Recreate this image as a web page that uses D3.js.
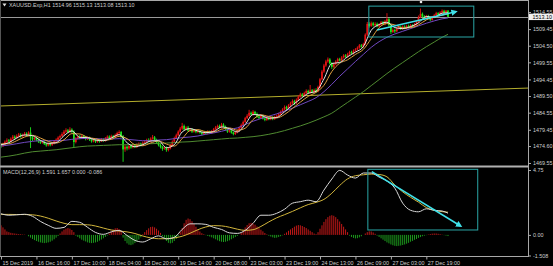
<!DOCTYPE html>
<html><head><meta charset="utf-8">
<script src="https://cdn.jsdelivr.net/npm/d3@7/dist/d3.min.js"></script>
<style>
html,body{margin:0;padding:0;background:#000;overflow:hidden}
svg{display:block}
text{font-family:"Liberation Sans",Arial,sans-serif;font-size:5.4px;fill:#cfcfcf}
</style></head><body>
<svg id="c" width="553" height="266"></svg>
<script>
// ---------- DATA ----------
const symbolTitle = "XAUUSD.Exp,H1  1514.96 1515.13 1513.08 1513.10";
const macdTitle = "MACD(12,26,9) 1.591 1.657 0.000 -0.086";
const opens=[1474.9,1474.6,1475.2,1475.9,1476.3,1476.0,1476.8,1477.4,1477.0,1477.6,
1478.0,1477.5,1477.9,1478.3,1477.8,1478.6,1477.2,1476.6,1477.0,1476.4,
1476.0,1475.6,1475.9,1475.2,1474.8,1475.3,1474.9,1475.4,1476.0,1476.5,
1477.1,1477.6,1478.2,1478.9,1479.3,1478.8,1479.5,1478.9,1475.8,1476.9,
1477.4,1477.0,1477.6,1477.2,1476.7,1477.1,1476.5,1476.0,1476.4,1475.9,
1476.3,1476.0,1476.6,1476.2,1476.9,1477.4,1477.0,1477.6,1477.2,1477.9,
1478.5,1478.8,1477.5,1473.6,1474.4,1473.9,1474.6,1474.2,1474.8,1474.4,
1475.0,1475.3,1474.9,1475.6,1475.9,1476.4,1476.0,1476.8,1477.2,1476.4,
1475.7,1474.9,1474.3,1473.8,1474.2,1473.4,1473.9,1474.8,1475.9,1477.0,
1477.8,1478.9,1479.8,1480.6,1479.6,1480.1,1479.2,1479.6,1478.9,1479.3,
1478.8,1479.1,1478.6,1478.2,1478.7,1478.4,1478.9,1478.5,1479.0,1479.6,
1480.2,1480.6,1480.1,1481.0,1480.4,1479.6,1478.9,1479.3,1478.6,1478.2,
1478.7,1479.2,1480.0,1480.9,1481.8,1482.9,1483.6,1484.5,1484.0,1484.8,
1484.2,1483.4,1483.0,1483.6,1482.8,1482.4,1483.0,1482.6,1483.1,1482.7,
1483.3,1483.6,1484.1,1484.8,1485.5,1486.2,1485.8,1486.7,1487.3,1488.0,
1487.4,1488.4,1489.3,1490.0,1489.6,1490.4,1491.0,1490.5,1491.2,1490.7,
1491.3,1490.9,1492.2,1494.5,1496.8,1498.6,1499.8,1500.4,1499.2,1498.2,
1499.0,1499.8,1500.5,1500.1,1501.0,1501.6,1501.2,1502.0,1502.6,1502.2,
1503.0,1503.4,1503.9,1504.6,1504.2,1505.0,1507.8,1511.0,1510.4,1511.2,
1510.6,1511.0,1510.3,1510.8,1511.5,1510.9,1511.8,1512.4,1510.6,1508.6,
1509.2,1508.8,1509.6,1510.1,1509.5,1510.2,1509.7,1510.4,1509.9,1510.6,
1510.2,1510.9,1511.6,1513.0,1514.0,1513.2,1512.6,1513.3,1512.8,1512.2,
1513.0,1513.6,1514.2,1513.7,1514.4,1514.9,1514.3,1514.96];
const highs=[1475.4,1475.6,1476.3,1476.9,1476.7,1477.2,1477.9,1477.8,1478.1,1478.5,
1478.4,1478.3,1478.8,1478.7,1479.0,1480.2,1477.6,1477.4,1477.3,1476.8,
1476.4,1476.3,1476.2,1475.6,1475.7,1475.6,1475.8,1476.4,1476.9,1477.5,
1478.0,1478.7,1479.4,1479.9,1479.7,1480.2,1479.9,1479.3,1477.3,1477.8,
1477.9,1478.0,1477.9,1477.5,1477.5,1477.4,1476.9,1476.8,1476.7,1476.7,
1476.7,1477.0,1476.9,1477.3,1477.8,1477.8,1478.0,1477.9,1478.3,1478.9,
1479.3,1479.1,1477.9,1474.9,1474.8,1475.0,1474.9,1475.3,1475.1,1475.4,
1475.7,1475.6,1476.0,1476.3,1476.8,1476.9,1477.2,1477.9,1477.6,1476.8,
1476.0,1475.3,1474.7,1474.6,1474.5,1474.3,1475.2,1476.3,1477.4,1478.3,
1479.3,1480.3,1481.5,1481.0,1480.5,1480.6,1480.0,1479.9,1479.7,1479.6,
1479.5,1479.4,1478.9,1479.1,1479.0,1479.3,1479.2,1479.4,1480.0,1480.6,
1481.0,1481.0,1481.5,1481.4,1480.7,1479.9,1479.7,1479.5,1478.9,1479.0,
1479.6,1480.4,1481.3,1482.2,1483.3,1484.1,1485.4,1484.9,1485.3,1485.1,
1484.6,1483.8,1484.0,1483.9,1483.2,1483.4,1483.4,1483.5,1483.5,1483.7,
1484.0,1484.5,1485.2,1485.9,1486.7,1486.6,1487.1,1487.8,1488.5,1488.4,
1488.8,1489.7,1490.5,1490.4,1490.8,1491.5,1491.4,1492.8,1491.6,1491.7,
1491.8,1492.6,1494.9,1497.3,1499.1,1500.3,1501.0,1500.8,1499.6,1499.5,
1500.2,1500.9,1500.9,1501.4,1502.0,1502.0,1502.4,1503.0,1503.0,1503.4,
1503.8,1504.3,1505.0,1505.0,1505.4,1508.2,1511.6,1511.5,1511.7,1511.6,
1511.5,1511.4,1511.2,1511.9,1511.9,1512.2,1514.2,1512.8,1510.9,1509.7,
1509.6,1510.0,1510.5,1510.5,1510.6,1510.6,1510.8,1510.8,1511.0,1510.9,
1511.3,1512.0,1513.5,1515.6,1514.4,1513.6,1513.7,1513.7,1513.2,1513.4,
1514.0,1514.6,1514.5,1514.8,1515.3,1515.2,1515.1,1515.13];
const lows=[1474.0,1474.3,1474.9,1475.5,1475.6,1475.7,1476.5,1476.6,1476.8,1477.3,
1477.1,1477.2,1477.6,1477.4,1477.5,1474.0,1476.1,1476.3,1476.0,1475.5,
1475.2,1475.3,1474.9,1474.4,1474.5,1474.5,1474.6,1475.1,1475.7,1476.2,
1476.8,1477.3,1477.9,1478.5,1478.4,1478.5,1478.4,1474.1,1475.4,1476.5,
1476.6,1476.7,1476.8,1476.3,1476.4,1476.1,1475.6,1475.7,1475.5,1475.6,
1475.6,1475.8,1475.9,1475.9,1476.6,1476.7,1476.7,1476.9,1477.0,1477.6,
1478.0,1477.0,1469.9,1472.9,1473.3,1473.5,1473.8,1473.9,1474.0,1474.0,
1474.6,1474.5,1474.6,1475.3,1475.6,1475.7,1475.7,1476.5,1476.1,1475.3,
1474.5,1473.9,1473.2,1473.5,1472.9,1473.0,1473.6,1474.5,1475.6,1476.7,
1477.5,1478.6,1479.4,1479.2,1479.3,1478.8,1478.9,1478.5,1478.6,1478.4,
1478.4,1478.3,1477.8,1477.9,1478.1,1478.1,1478.2,1478.2,1478.8,1479.4,
1479.9,1479.8,1479.8,1480.1,1479.3,1478.5,1478.6,1478.3,1477.8,1477.9,
1478.4,1478.9,1479.7,1480.6,1481.5,1482.6,1483.3,1483.6,1483.7,1483.9,
1483.0,1482.6,1482.7,1482.5,1482.0,1482.1,1482.3,1482.3,1482.3,1482.4,
1483.0,1483.3,1483.9,1484.5,1485.2,1485.3,1485.5,1486.4,1487.0,1486.8,
1487.1,1488.0,1489.0,1489.2,1489.3,1490.1,1490.1,1490.2,1490.3,1490.4,
1490.4,1490.6,1491.9,1494.2,1496.4,1498.2,1499.4,1498.9,1497.6,1497.9,
1498.7,1499.5,1499.8,1499.8,1500.7,1500.9,1500.9,1501.7,1501.9,1501.9,
1502.7,1503.1,1503.6,1503.9,1503.9,1504.7,1507.4,1509.9,1510.1,1510.2,
1510.2,1510.0,1510.0,1510.5,1510.6,1510.6,1511.5,1510.2,1508.0,1508.3,
1508.3,1508.5,1509.3,1509.2,1509.2,1509.4,1509.4,1509.6,1509.6,1509.9,
1509.9,1510.6,1511.3,1512.7,1512.9,1512.2,1512.3,1512.5,1511.8,1512.0,
1512.7,1513.3,1513.4,1513.4,1514.1,1514.0,1514.1,1513.08];
const closes=[1474.6,1475.2,1475.9,1476.3,1476.0,1476.8,1477.4,1477.0,1477.6,1478.0,
1477.5,1477.9,1478.3,1477.8,1478.6,1477.2,1476.6,1477.0,1476.4,1476.0,
1475.6,1475.9,1475.2,1474.8,1475.3,1474.9,1475.4,1476.0,1476.5,1477.1,
1477.6,1478.2,1478.9,1479.3,1478.8,1479.5,1478.9,1475.8,1476.9,1477.4,
1477.0,1477.6,1477.2,1476.7,1477.1,1476.5,1476.0,1476.4,1475.9,1476.3,
1476.0,1476.6,1476.2,1476.9,1477.4,1477.0,1477.6,1477.2,1477.9,1478.5,
1478.8,1477.5,1473.6,1474.4,1473.9,1474.6,1474.2,1474.8,1474.4,1475.0,
1475.3,1474.9,1475.6,1475.9,1476.4,1476.0,1476.8,1477.2,1476.4,1475.7,
1474.9,1474.3,1473.8,1474.2,1473.4,1473.9,1474.8,1475.9,1477.0,1477.8,
1478.9,1479.8,1480.6,1479.6,1480.1,1479.2,1479.6,1478.9,1479.3,1478.8,
1479.1,1478.6,1478.2,1478.7,1478.4,1478.9,1478.5,1479.0,1479.6,1480.2,
1480.6,1480.1,1481.0,1480.4,1479.6,1478.9,1479.3,1478.6,1478.2,1478.7,
1479.2,1480.0,1480.9,1481.8,1482.9,1483.6,1484.5,1484.0,1484.8,1484.2,
1483.4,1483.0,1483.6,1482.8,1482.4,1483.0,1482.6,1483.1,1482.7,1483.3,
1483.6,1484.1,1484.8,1485.5,1486.2,1485.8,1486.7,1487.3,1488.0,1487.4,
1488.4,1489.3,1490.0,1489.6,1490.4,1491.0,1490.5,1491.2,1490.7,1491.3,
1490.9,1492.2,1494.5,1496.8,1498.6,1499.8,1500.4,1499.2,1498.2,1499.0,
1499.8,1500.5,1500.1,1501.0,1501.6,1501.2,1502.0,1502.6,1502.2,1503.0,
1503.4,1503.9,1504.6,1504.2,1505.0,1507.8,1511.0,1510.4,1511.2,1510.6,
1511.0,1510.3,1510.8,1511.5,1510.9,1511.8,1512.4,1510.6,1508.6,1509.2,
1508.8,1509.6,1510.1,1509.5,1510.2,1509.7,1510.4,1509.9,1510.6,1510.2,
1510.9,1511.6,1513.0,1514.0,1513.2,1512.6,1513.3,1512.8,1512.2,1513.0,
1513.6,1514.2,1513.7,1514.4,1514.9,1514.3,1514.96,1513.10];

// moving averages read every 4 bars (bars 0,4,...,224 and the last bar 227)
const maWhite=[1475.0,1475.6,1477.0,1477.9,1477.7,1476.3,1475.4,1475.6,1477.7,1479.1,
1477.2,1477.1,1476.4,1476.2,1477.0,1478.0,1475.6,1474.4,1475.0,1476.1,
1476.2,1474.1,1475.0,1478.8,1479.8,1479.1,1478.6,1478.9,1480.3,1479.8,
1478.8,1481.0,1484.0,1483.8,1482.9,1483.1,1484.8,1486.8,1488.6,1490.3,
1490.9,1494.6,1499.2,1499.5,1501.2,1502.6,1504.2,1509.1,1510.8,1511.5,
1509.9,1509.6,1510.2,1511.3,1513.2,1513.0,1514.2,1514.3];
const maOrange=[1475.2,1475.3,1476.2,1477.3,1477.8,1477.0,1476.0,1475.5,1476.5,1478.3,
1478.2,1477.2,1476.8,1476.3,1476.6,1477.5,1476.8,1475.0,1474.7,1475.5,
1476.1,1475.2,1474.6,1476.8,1479.2,1479.5,1478.9,1478.8,1479.6,1480.0,
1479.3,1479.9,1482.5,1483.9,1483.4,1483.0,1484.0,1485.8,1487.7,1489.4,
1490.6,1492.7,1496.8,1499.3,1500.3,1501.9,1503.4,1506.6,1509.9,1511.1,
1510.7,1509.8,1509.9,1510.7,1512.2,1513.1,1513.6,1514.0];
const maPurple=[1474.6,1474.9,1475.3,1475.7,1476.0,1476.2,1476.2,1476.2,1476.3,1476.6,
1476.8,1476.9,1476.8,1476.7,1476.7,1476.8,1476.6,1476.4,1476.2,1476.2,
1476.4,1476.5,1476.8,1477.1,1477.3,1477.6,1478.1,1478.5,1479.0,1479.6,
1480.0,1481.0,1482.0,1482.8,1483.5,1484.2,1485.0,1485.9,1486.9,1487.9,
1489.0,1490.8,1493.0,1495.4,1497.6,1499.8,1501.9,1504.0,1505.7,1507.0,
1508.0,1508.8,1509.6,1510.4,1511.2,1511.9,1512.5,1512.8];
const maGreen=[1471.3,1471.6,1472.0,1472.5,1472.9,1473.1,1473.3,1473.5,1473.8,1474.1,
1474.4,1474.6,1474.7,1474.8,1474.9,1475.0,1475.0,1475.1,1475.2,1475.3,
1475.4,1475.5,1475.6,1475.8,1475.9,1476.1,1476.3,1476.5,1476.7,1476.9,
1477.0,1477.2,1477.4,1477.7,1478.1,1478.6,1479.2,1479.9,1480.6,1481.4,
1482.3,1483.3,1484.4,1486.0,1487.6,1489.2,1490.8,1492.6,1494.4,1496.2,
1497.9,1499.5,1501.1,1502.7,1504.2,1505.6,1507.0,1507.9];
const macdMain=[1.55,1.44,1.47,1.51,1.36,0.99,0.70,0.48,0.55,0.99,
0.92,0.55,0.18,0.04,0.22,0.33,-0.04,-0.40,-0.52,-0.29,
-0.07,-0.29,-0.18,0.40,0.81,0.81,0.77,0.55,0.40,0.15,
0.11,0.33,0.85,1.44,1.44,1.58,1.88,2.32,2.43,2.54,
2.43,3.28,4.09,4.72,4.38,4.16,4.53,4.53,4.23,3.94,
3.42,2.32,1.80,1.69,1.91,1.80,1.75,1.59];
const macdSignal=[1.50,1.50,1.49,1.49,1.47,1.38,1.22,1.02,0.85,0.75,
0.75,0.74,0.65,0.50,0.36,0.28,0.22,0.10,-0.08,-0.22,
-0.28,-0.28,-0.22,-0.10,0.12,0.38,0.58,0.68,0.66,0.56,
0.42,0.33,0.38,0.62,0.95,1.25,1.48,1.72,1.98,2.22,
2.38,2.60,3.05,3.62,4.10,4.33,4.40,4.45,4.42,4.25,
3.65,3.15,2.75,2.40,2.00,1.80,1.70,1.66];
const macdHist=[0.7,0.55,0.4,
0.25,0.2,0.15,0.12,0.1,0.08,0.06,0.05,0.03,0.02,0.0,
-0.1,-0.2,-0.3,-0.38,-0.45,-0.5,-0.55,-0.58,-0.6,-0.58,-0.55,-0.5,-0.42,-0.32,-0.2,-0.08,
0.1,0.25,0.38,0.46,0.5,0.46,0.36,0.2,
-0.05,-0.15,-0.25,-0.35,-0.42,-0.48,-0.55,-0.58,-0.6,-0.58,-0.55,-0.5,-0.42,-0.34,-0.25,-0.15,-0.05,
0.1,0.25,0.38,0.48,0.5,0.42,0.3,
-0.2,-0.45,-0.62,-0.72,-0.75,-0.7,-0.6,-0.48,-0.34,-0.18,
0.05,0.2,0.35,0.48,0.58,0.6,0.55,0.45,0.32,0.15,
-0.1,-0.28,-0.45,-0.58,-0.62,-0.58,-0.45,-0.3,-0.12,
0.2,0.5,0.85,1.1,1.2,1.15,1.0,0.8,0.6,0.4,
0.25,0.12,0.05,-0.02,-0.08,-0.12,-0.18,-0.25,
-0.32,-0.4,-0.46,-0.5,-0.52,-0.5,-0.46,-0.4,-0.32,-0.24,-0.16,-0.08,0.0,
0.15,0.35,0.55,0.72,0.85,0.88,0.84,0.75,0.62,0.5,0.38,0.26,0.14,0.04,
-0.06,-0.12,-0.18,-0.22,-0.2,-0.15,-0.1,-0.03,
0.08,0.18,0.3,0.4,0.5,0.6,0.68,0.72,0.7,0.65,0.58,0.5,0.4,0.3,0.2,0.1,
0.05,0.2,
0.45,0.7,0.95,1.15,1.3,1.4,1.44,1.4,1.3,1.15,0.98,0.8,0.6,0.4,0.2,
-0.05,-0.15,-0.22,-0.26,-0.24,-0.18,-0.1,0.0,
0.1,0.2,0.26,0.25,0.18,0.08,
-0.05,-0.15,-0.25,-0.35,-0.45,-0.55,-0.62,-0.7,-0.76,-0.8,-0.82,-0.8,-0.78,-0.74,-0.7,-0.64,-0.58,-0.5,-0.44,-0.36,-0.3,-0.22,-0.16,-0.1,-0.06,-0.02,
0.03,0.06,0.09,0.1,0.1,0.08,0.05,0.02,-0.02,
-0.05,-0.086];

const priceTicks=[1514.55,1509.45,1504.50,1499.55,1494.45,1489.50,1484.55,1479.45,1474.60,1469.55];
const macdTicks=[4.75,0.00,-1.508];
const timeLabels=["15 Dec 2019","16 Dec 16:00","17 Dec 10:00","18 Dec 04:00","18 Dec 20:00","19 Dec 14:00","20 Dec 08:00","23 Dec 03:00","23 Dec 19:00","24 Dec 13:00","26 Dec 09:00","27 Dec 03:00","27 Dec 19:00"];
const timeLabelBars=[0,18,36,54,72,90,108,126,144,162,180,198,216];
const lastPrice=1513.10;
// drawn objects: [bar, value]
const trendLine=[[0,1486.55],[227,1491.07]];
const mainBox=[[186.8,1516.3],[240.1,1507.1]];
const mainArrow=[[190.9,1509.2],[231,1514.64]];
const macdBox=[[186.3,4.80],[242.1,0.36]];
const macdArrow=[[188.3,4.63],[233.4,0.65]];

// ---------- DRAW ----------
const svg=d3.select('#c');
const AX=528.5;
const nBars=closes.length;
const x=d3.scaleLinear().domain([0,227]).range([1,448]);
const y=d3.scaleLinear().domain([1469.55,1514.55]).range([163,12]);
const ym=d3.scaleLinear().domain([-1.508,4.75]).range([255.5,170]);
const maBars=d3.range(0,225,4).concat([227]);

const defs=svg.append('defs');
defs.append('clipPath').attr('id','cm').append('rect').attr('x',0).attr('y',1).attr('width',528).attr('height',164.5);
defs.append('clipPath').attr('id','cd').append('rect').attr('x',0).attr('y',168).attr('width',528).attr('height',88);
defs.append('marker').attr('id','ah').attr('viewBox','0 0 10 10').attr('refX',7).attr('refY',5)
  .attr('markerWidth',4).attr('markerHeight',4).attr('orient','auto')
  .append('path').attr('d','M0,0L10,5L0,10z').attr('fill','#3fe0e8');

svg.append('rect').attr('width',553).attr('height',266).attr('fill','#000');

const gm=svg.append('g').attr('clip-path','url(#cm)');
// current price line
gm.append('line').attr('x1',0).attr('x2',528).attr('y1',Math.round(y(lastPrice))+0.5).attr('y2',Math.round(y(lastPrice))+0.5)
  .attr('stroke','#9a9a9a').attr('stroke-width',1);
// trend line (ray to the right edge)
const tSlope=(trendLine[1][1]-trendLine[0][1])/(trendLine[1][0]-trendLine[0][0]);
const tEnd=x.invert(528);
gm.append('line').attr('x1',x(trendLine[0][0])-1).attr('y1',y(trendLine[0][1]-tSlope*0.5))
  .attr('x2',x(tEnd)).attr('y2',y(trendLine[0][1]+tSlope*(tEnd-trendLine[0][0])))
  .attr('stroke','#b4ae2c').attr('stroke-width',1);

// candles
const bars=d3.range(nBars).map(i=>({i,o:opens[i],h:highs[i],l:lows[i],c:closes[i]}));
const up='#e81414', dn='#1ce81c';
gm.append('g').selectAll('line').data(bars).join('line')
  .attr('x1',d=>x(d.i)).attr('x2',d=>x(d.i)).attr('y1',d=>y(d.h)).attr('y2',d=>y(d.l))
  .attr('stroke',d=>d.c>=d.o?up:dn).attr('stroke-width',0.9);
gm.append('g').selectAll('rect').data(bars).join('rect')
  .attr('x',d=>x(d.i)-0.85).attr('width',1.7)
  .attr('y',d=>y(Math.max(d.o,d.c))).attr('height',d=>Math.max(0.6,Math.abs(y(d.o)-y(d.c))))
  .attr('fill',d=>d.c>=d.o?up:dn);

// moving averages
const maLine=d3.line().x((d,k)=>x(maBars[k])).y(d=>y(d)).curve(d3.curveMonotoneX);
[[maGreen,'#4f8a30'],[maPurple,'#7048c0'],[maOrange,'#e0a040'],[maWhite,'#e6e6e6']].forEach(([arr,col])=>{
  gm.append('path').attr('d',maLine(arr)).attr('fill','none').attr('stroke',col).attr('stroke-width',1);
});

// main objects
gm.append('rect').attr('x',x(mainBox[0][0])).attr('y',y(mainBox[0][1]))
  .attr('width',x(mainBox[1][0])-x(mainBox[0][0])).attr('height',y(mainBox[1][1])-y(mainBox[0][1]))
  .attr('fill','none').attr('stroke','#2aa6a6').attr('stroke-width',1);
gm.append('line').attr('x1',x(mainArrow[0][0])).attr('y1',y(mainArrow[0][1]))
  .attr('x2',x(mainArrow[1][0])).attr('y2',y(mainArrow[1][1]))
  .attr('stroke','#3fe0e8').attr('stroke-width',1.6).attr('marker-end','url(#ah)');
gm.append('circle').attr('cx',421).attr('cy',2).attr('r',1.3).attr('fill','#e8e8e8');

// MACD panel
const gd=svg.append('g').attr('clip-path','url(#cd)');
gd.append('g').selectAll('line').data(macdHist.map((v,i)=>({i,v}))).join('line')
  .attr('x1',d=>x(d.i)).attr('x2',d=>x(d.i)).attr('y1',ym(0)).attr('y2',d=>ym(d.v))
  .attr('stroke',d=>d.v>=0?'#c41818':'#1c9a1c').attr('stroke-width',1);
const mLine=d3.line().x((d,k)=>x(maBars[k])).y(d=>ym(d)).curve(d3.curveMonotoneX);
gd.append('path').attr('d',mLine(macdSignal)).attr('fill','none').attr('stroke','#d2b63c').attr('stroke-width',1);
gd.append('path').attr('d',mLine(macdMain)).attr('fill','none').attr('stroke','#d8d8d8').attr('stroke-width',1);
gd.append('rect').attr('x',x(macdBox[0][0])).attr('y',ym(macdBox[0][1]))
  .attr('width',x(macdBox[1][0])-x(macdBox[0][0])).attr('height',ym(macdBox[1][1])-ym(macdBox[0][1]))
  .attr('fill','none').attr('stroke','#2aa6a6').attr('stroke-width',1);
gd.append('line').attr('x1',x(macdArrow[0][0])).attr('y1',ym(macdArrow[0][1]))
  .attr('x2',x(macdArrow[1][0])).attr('y2',ym(macdArrow[1][1]))
  .attr('stroke','#3fe0e8').attr('stroke-width',1.6).attr('marker-end','url(#ah)');

// frame
const fr='#a8a8a8';
svg.append('line').attr('x1',0).attr('x2',AX).attr('y1',0.5).attr('y2',0.5).attr('stroke',fr);
svg.append('line').attr('x1',0.5).attr('x2',0.5).attr('y1',0).attr('y2',256).attr('stroke','#555');
svg.append('line').attr('x1',AX).attr('x2',AX).attr('y1',0).attr('y2',257).attr('stroke',fr);
svg.append('rect').attr('x',0).attr('y',165.5).attr('width',AX).attr('height',2).attr('fill','#b0b0b0');
svg.append('line').attr('x1',0).attr('x2',AX).attr('y1',256.5).attr('y2',256.5).attr('stroke',fr);

// price axis
const ga=svg.append('g').attr('transform',`translate(${AX},0)`)
  .call(d3.axisRight(y).tickValues(priceTicks).tickFormat(d3.format('.2f')).tickSize(2.5).tickPadding(2));
ga.select('.domain').remove();
ga.selectAll('line').attr('stroke',fr);
ga.selectAll('text').attr('fill','#cfcfcf').style('font-size','5.4px');
// current price box
const yl=y(lastPrice);
svg.append('rect').attr('x',AX+0.5).attr('y',yl-3.2).attr('width',24).attr('height',6.4).attr('fill','#f0f0f0');
svg.append('text').attr('x',AX+4).attr('y',yl).attr('dy','0.34em').style('fill','#000').text(d3.format('.2f')(lastPrice));

// MACD axis
const gb=svg.append('g').attr('transform',`translate(${AX},0)`)
  .call(d3.axisRight(ym).tickValues(macdTicks).tickFormat(d=>d===-1.508?'-1.508':d3.format('.2f')(d)).tickSize(2.5).tickPadding(2));
gb.select('.domain').remove();
gb.selectAll('line').attr('stroke',fr);
gb.selectAll('text').attr('fill','#cfcfcf').style('font-size','5.4px');

// time axis
const gt=svg.append('g').attr('transform','translate(0,256.5)')
  .call(d3.axisBottom(x).tickValues(timeLabelBars).tickFormat((d,i)=>timeLabels[i]).tickSize(3).tickPadding(1.5));
gt.select('.domain').remove();
gt.selectAll('line').attr('stroke',fr);
gt.selectAll('text').attr('text-anchor','start').attr('dx','1').attr('fill','#cfcfcf').style('font-size','5.4px');

// titles
svg.append('path').attr('d','M2.5,3.5L6.5,3.5L4.5,6.5Z').attr('fill','#e0e0e0');
svg.append('text').attr('x',9).attr('y',7).text(symbolTitle);
svg.append('text').attr('x',3).attr('y',173.5).text(macdTitle);
</script>
</body></html>
